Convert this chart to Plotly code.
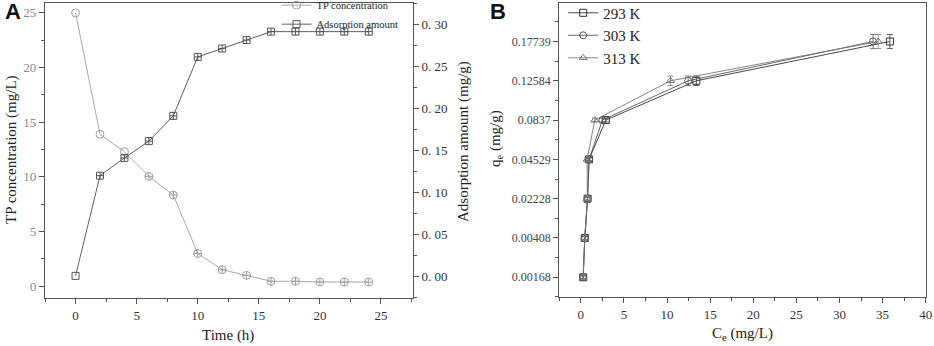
import plotly.graph_objects as go

# ---------------- Panel A data ----------------
time_h = [0, 2, 4, 6, 8, 10, 12, 14, 16, 18, 20, 22, 24]
tp_conc = [25.0, 13.9, 12.3, 10.05, 8.35, 3.0, 1.52, 1.0, 0.46, 0.46, 0.39, 0.39, 0.39]
ads_amount = [0.001, 0.120, 0.141, 0.161, 0.191, 0.261, 0.271, 0.281, 0.291, 0.291, 0.291, 0.291, 0.291]
left_ticks = [0, 5, 10, 15, 20, 25]
right_ticks = [0.00, 0.05, 0.10, 0.15, 0.20, 0.25, 0.30]
right_ticktext = ["0. 00", "0. 05", "0. 10", "0. 15", "0. 20", "0. 25", "0. 30"]

# ---------------- Panel B data ----------------
qe_levels = [0.00168, 0.00408, 0.02228, 0.04529, 0.0837, 0.12584, 0.17739]
qe_labels = ["0.00168", "0.00408", "0.02228", "0.04529", "0.0837", "0.12584", "0.17739"]
ce_293 = [0.27, 0.46, 0.78, 0.95, 2.9, 13.4, 35.85]
ce_303 = [0.27, 0.46, 0.78, 0.96, 2.5, 12.45, 33.9]
ce_313 = [0.27, 0.46, 0.75, 0.73, 1.62, 10.4, 34.5]
qe_err_ticks = [0.04, 0.04, 0.04, 0.04, 0.05, 0.12, 0.18]

SERIF = "Liberation Serif, Times New Roman, serif"
AX = "#555555"

fig = go.Figure()

# Panel A traces
n = len(time_h)
fig.add_trace(go.Scatter(
    x=time_h, y=tp_conc, name="TP concentration", mode="lines+markers",
    line=dict(color="#a8a8a8", width=1),
    marker=dict(symbol=["circle-open"] * 3 + ["circle-cross-open"] * (n - 3), size=8,
                color="#a0a0a0", line=dict(width=1)),
    xaxis="x", yaxis="y", legend="legend"))
fig.add_trace(go.Scatter(
    x=time_h, y=ads_amount, name="Adsorption amount", mode="lines+markers",
    line=dict(color="#606060", width=1),
    marker=dict(symbol=["square-open"] + ["square-cross-open"] * (n - 1), size=7,
                color="#555555", line=dict(width=1)),
    xaxis="x", yaxis="y2", legend="legend"))

# Panel B traces
def qpos(vals):
    return [qe_levels.index(v) for v in vals]

for name, ce, sym, col in [("293 K", ce_293, "square-open", "#333333"),
                           ("303 K", ce_303, "circle-open", "#555555"),
                           ("313 K", ce_313, "triangle-up-open", "#777777")]:
    fig.add_trace(go.Scatter(
        x=ce, y=qpos(qe_levels), name=name, mode="lines+markers",
        line=dict(color=col, width=0.9),
        marker=dict(symbol=sym, size=7, color=col, line=dict(width=1)),
        error_y=dict(type="data", array=qe_err_ticks, color=col, thickness=0.8, width=3),
        xaxis="x2", yaxis="y3", legend="legend2"))

tickfont = dict(family=SERIF, size=13, color="#333333")

fig.update_layout(
    width=934, height=346,
    margin=dict(l=0, r=0, t=0, b=0, autoexpand=False),
    paper_bgcolor="white", plot_bgcolor="white",
    showlegend=True,
    xaxis=dict(domain=[0.0482, 0.4419], range=[-2.5, 27.6], anchor="y",
               tickvals=[0, 5, 10, 15, 20, 25], ticks="outside", ticklen=5, tickwidth=1.2,
               tickcolor=AX, showline=True, linecolor=AX, linewidth=1.2, mirror=True,
               showgrid=False, zeroline=False, tickfont=tickfont,
               minor=dict(dtick=2.5, ticks="outside", ticklen=3, tickcolor=AX)),
    yaxis=dict(domain=[0.1387, 0.9913], range=[-1.07, 25.9], anchor="x",
               tickvals=left_ticks, ticks="outside", ticklen=5, tickwidth=1.2,
               tickcolor=AX, showline=True, linecolor=AX, linewidth=1.2, mirror=False,
               showgrid=False, zeroline=False,
               tickfont=dict(family=SERIF, size=13, color="#8a8a8a"),
               minor=dict(dtick=2.5, ticks="outside", ticklen=3, tickcolor=AX)),
    yaxis2=dict(overlaying="y", side="right", anchor="x", range=[-0.0253, 0.325],
                tickvals=right_ticks, ticktext=right_ticktext, ticks="outside", ticklen=5,
                tickwidth=1.2, tickcolor=AX, showline=True, linecolor=AX, linewidth=1.2,
                showgrid=False, zeroline=False, tickfont=tickfont,
                minor=dict(dtick=0.025, ticks="outside", ticklen=3, tickcolor=AX)),
    xaxis2=dict(domain=[0.5988, 0.9911], range=[-2.5, 40], anchor="y3",
                tickvals=[0, 5, 10, 15, 20, 25, 30, 35, 40], ticks="outside", ticklen=5,
                tickwidth=1.2, tickcolor=AX, showline=True, linecolor=AX, linewidth=1.2,
                mirror=True, showgrid=False, zeroline=False, tickfont=tickfont,
                minor=dict(dtick=2.5, ticks="outside", ticklen=3, tickcolor=AX)),
    yaxis3=dict(domain=[0.1408, 0.9913], range=[-0.51, 6.98], anchor="x2",
                tickvals=list(range(len(qe_labels))), ticktext=qe_labels,
                ticks="outside", ticklen=5, tickwidth=1.2, tickcolor=AX, showline=True,
                linecolor=AX, linewidth=1.2, mirror=True, showgrid=False, zeroline=False,
                tickfont=dict(family=SERIF, size=12, color="#444444"),
                minor=dict(dtick=0.5, tick0=0, ticks="outside", ticklen=3, tickcolor=AX)),
    legend=dict(x=0.432, y=1.027, xanchor="right", yanchor="top",
                bgcolor="rgba(0,0,0,0)", font=dict(family=SERIF, size=10.5, color="#222222"),
                tracegroupgap=0, itemwidth=30),
    legend2=dict(x=0.603, y=1.01, xanchor="left", yanchor="top",
                 bgcolor="rgba(0,0,0,0)", font=dict(family=SERIF, size=15, color="#222222"),
                 tracegroupgap=0, itemwidth=30),
)

ann = [
    dict(text="A", x=3, y=12, font=dict(family="Liberation Sans, Arial", size=22, color="#111111"), textangle=0, bold=True),
    dict(text="B", x=488, y=12, font=dict(family="Liberation Sans, Arial", size=22, color="#111111"), textangle=0, bold=True),
    dict(text="Time (h)", x=228, y=335, font=dict(family=SERIF, size=15, color="#222222"), textangle=0),
    dict(text="C<sub>e</sub> (mg/L)", x=742, y=334, font=dict(family=SERIF, size=15, color="#222222"), textangle=0),
    dict(text="TP concentration (mg/L)", x=12, y=150, font=dict(family=SERIF, size=15, color="#222222"), textangle=-90),
    dict(text="Adsorption amount (mg/g)", x=463, y=142, font=dict(family=SERIF, size=15, color="#222222"), textangle=-90),
    dict(text="q<sub>e</sub> (mg/g)", x=496, y=139, font=dict(family=SERIF, size=15, color="#222222"), textangle=-90),
]
for a in ann:
    txt = "<b>%s</b>" % a["text"] if a.get("bold") else a["text"]
    xa = "left" if a.get("bold") else "center"
    fig.add_annotation(text=txt, x=a["x"] / 934, y=1 - a["y"] / 346, xref="paper", yref="paper",
                       xanchor=xa, yanchor="middle", showarrow=False, font=a["font"],
                       textangle=a["textangle"])

fig.write_html("out.html", config={"displayModeBar": False},
               post_script="document.body.style.margin='0px';")
